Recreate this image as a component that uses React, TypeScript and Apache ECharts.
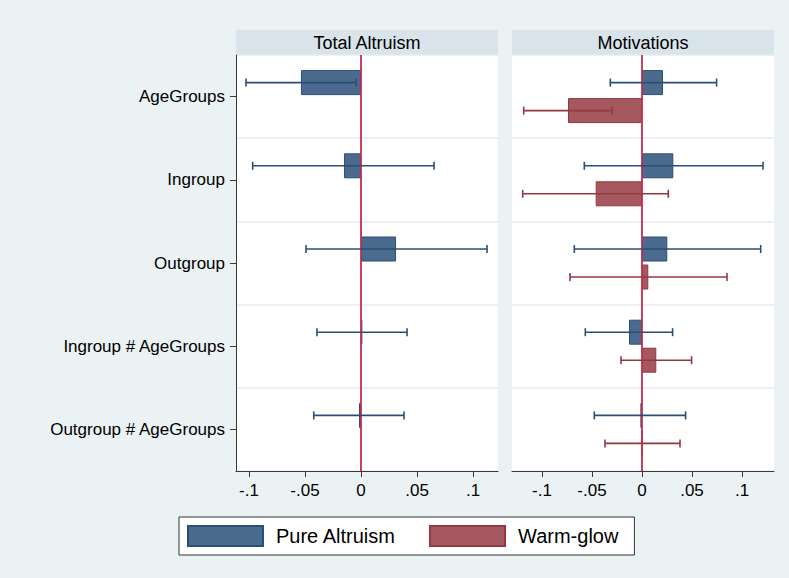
import React, { useEffect, useRef } from "react";
import * as echarts from "echarts";

const categories = ["AgeGroups", "Ingroup", "Outgroup", "Ingroup # AgeGroups", "Outgroup # AgeGroups"];
const tickValues = [-0.1, -0.05, 0, 0.05, 0.1];
const panelTitles = ["Total Altruism", "Motivations"];

// Total Altruism panel (pure altruism only)
const pureTotal = [-0.0536, -0.0152, 0.0313, 0.0012, -0.0018];
const pureTotalLo = [-0.1027, -0.0967, -0.0491, -0.0393, -0.0422];
const pureTotalHi = [-0.0045, 0.0652, 0.1125, 0.0411, 0.0384];
const warmTotal: (number | null)[] = [null, null, null, null, null];

// Motivations panel
const pureMot = [0.021, 0.0313, 0.0253, -0.013, -0.0016];
const pureMotLo = [-0.0317, -0.0577, -0.0677, -0.0567, -0.0477];
const pureMotHi = [0.0746, 0.121, 0.1187, 0.0306, 0.0436];
const warmMot = [-0.074, -0.0463, 0.0063, 0.0143, 0.0004];
const warmMotLo = [-0.1183, -0.1193, -0.072, -0.021, -0.037];
const warmMotHi = [-0.03, 0.0263, 0.085, 0.0496, 0.038];

const BLUE = "#4a6b8e";
const BLUE_DARK = "#2b4f73";
const RED = "#a5585f";
const RED_DARK = "#933841";
const ZERO = "#c92a4e";
const BG = "#eaf2f3";
const STRIP = "#d8e4ea";
const GRID = "#e3ecef";
const AXIS = "#3a3a3a";
const FONT = "'Liberation Sans', Arial, sans-serif";

const BAR_W = 25;
const BAR_GAP = 3;
const OFF = (BAR_W + BAR_GAP) / 2;

function fmt(v: number) {
  if (v === 0) return "0";
  const s = String(Math.abs(Math.round(v * 1000) / 1000)).replace(/^0/, "");
  return (v < 0 ? "-" : "") + s;
}

function errSeries(name: string, lo: number[], hi: number[], idx: number, offset: number, color: string) {
  return {
    type: "custom",
    name,
    xAxisIndex: idx,
    yAxisIndex: idx,
    z: 5,
    silent: true,
    encode: { x: [0, 1], y: 2 },
    data: lo.map((l, i) => [l, hi[i], i]),
    renderItem: (params: any, api: any) => {
      const a = api.coord([api.value(0), api.value(2)]);
      const b = api.coord([api.value(1), api.value(2)]);
      const y = a[1] + offset;
      const style = { stroke: color, lineWidth: 1.6 };
      return {
        type: "group",
        children: [
          { type: "line", shape: { x1: a[0], y1: y, x2: b[0], y2: y }, style },
          { type: "line", shape: { x1: a[0], y1: y - 4, x2: a[0], y2: y + 4 }, style },
          { type: "line", shape: { x1: b[0], y1: y - 4, x2: b[0], y2: y + 4 }, style },
        ],
      };
    },
  };
}

function zeroLine(idx: number) {
  return {
    type: "line",
    xAxisIndex: idx,
    yAxisIndex: idx,
    data: [],
    z: 6,
    silent: true,
    markLine: {
      silent: true,
      symbol: "none",
      label: { show: false },
      lineStyle: { color: ZERO, width: 1.8, type: "solid" },
      data: [{ xAxis: 0 }],
    },
  };
}

export default function App() {
  const ref = useRef<HTMLDivElement>(null);
  useEffect(() => {
    document.body.style.margin = "0";
    document.body.style.background = BG;
    const chart = echarts.init(ref.current!, null, { renderer: "svg" });
    const grids = [
      { left: 236, right: 291, top: 55, bottom: 107 },
      { left: 512, right: 15, top: 55, bottom: 107 },
    ];
    const ranges = [
      [-0.1116, 0.1223],
      [-0.13, 0.132],
    ];
    const xAxes = ranges.map((r, i) => ({
      type: "value",
      gridIndex: i,
      min: r[0],
      max: r[1],
      axisLine: { show: true, onZero: false, lineStyle: { color: AXIS, width: 1 } },
      axisTick: { show: true, length: 6, customValues: tickValues, lineStyle: { color: AXIS } },
      axisLabel: {
        customValues: tickValues,
        formatter: fmt,
        fontSize: 17,
        color: "#000",
        fontFamily: FONT,
        margin: 11,
      },
      splitLine: { show: false },
    }));
    const yAxes = [0, 1].map((i) => ({
      type: "category",
      gridIndex: i,
      data: categories,
      inverse: true,
      boundaryGap: true,
      position: "left",
      axisLine: { show: i === 0, onZero: false, lineStyle: { color: AXIS, width: 1 } },
      axisTick: { show: i === 0, alignWithLabel: true, length: 6, lineStyle: { color: AXIS } },
      axisLabel: { show: i === 0, fontSize: 17, color: "#000", fontFamily: FONT, margin: 11 },
      splitLine: { show: true, lineStyle: { color: GRID, width: 1.5 } },
    }));
    const barBase = (name: string, data: any[], idx: number, fill: string, border: string) => ({
      type: "bar",
      name,
      xAxisIndex: idx,
      yAxisIndex: idx,
      data,
      barWidth: BAR_W,
      barGap: `${(BAR_GAP / BAR_W) * 100}%`,
      itemStyle: { color: fill, borderColor: border, borderWidth: 1 },
      silent: true,
      z: 2,
    });
    const graphics: any[] = [];
    grids.forEach((g, i) => {
      const w = 789 - g.left - g.right;
      graphics.push({
        type: "rect",
        shape: { x: g.left, y: 30, width: w, height: 25 },
        style: { fill: STRIP },
        silent: true,
      });
      graphics.push({
        type: "text",
        x: g.left + w / 2,
        y: 43,
        style: {
          text: panelTitles[i],
          fontSize: 18,
          fontFamily: FONT,
          fill: "#000",
          align: "center",
          verticalAlign: "middle",
        },
        silent: true,
      });
    });
    chart.setOption({
      animation: false,
      backgroundColor: BG,
      grid: grids.map((g) => ({ ...g, show: true, backgroundColor: "#fff", borderWidth: 0 })),
      xAxis: xAxes,
      yAxis: yAxes,
      legend: {
        data: ["Pure Altruism", "Warm-glow"],
        left: 179,
        top: 517,
        padding: [8, 16, 8, 8],
        itemWidth: 75,
        itemHeight: 20,
        itemGap: 33,
        icon: "rect",
        backgroundColor: "#fff",
        borderColor: "#333",
        borderWidth: 1,
        borderRadius: 0,
        textStyle: { fontSize: 20, color: "#000", fontFamily: FONT, padding: [0, 0, 0, 8] },
        selectedMode: false,
      },
      graphic: graphics,
      series: [
        barBase("Pure Altruism", pureTotal, 0, BLUE, BLUE_DARK),
        barBase("Warm-glow", warmTotal, 0, RED, RED_DARK),
        barBase("Pure Altruism", pureMot, 1, BLUE, BLUE_DARK),
        barBase("Warm-glow", warmMot, 1, RED, RED_DARK),
        errSeries("ciPureTotal", pureTotalLo, pureTotalHi, 0, -OFF, BLUE_DARK),
        errSeries("ciPureMot", pureMotLo, pureMotHi, 1, -OFF, BLUE_DARK),
        errSeries("ciWarmMot", warmMotLo, warmMotHi, 1, OFF, RED_DARK),
        zeroLine(0),
        zeroLine(1),
      ],
    });
    return () => chart.dispose();
  }, []);
  return <div ref={ref} style={{ width: 789, height: 578, background: BG }} />;
}
